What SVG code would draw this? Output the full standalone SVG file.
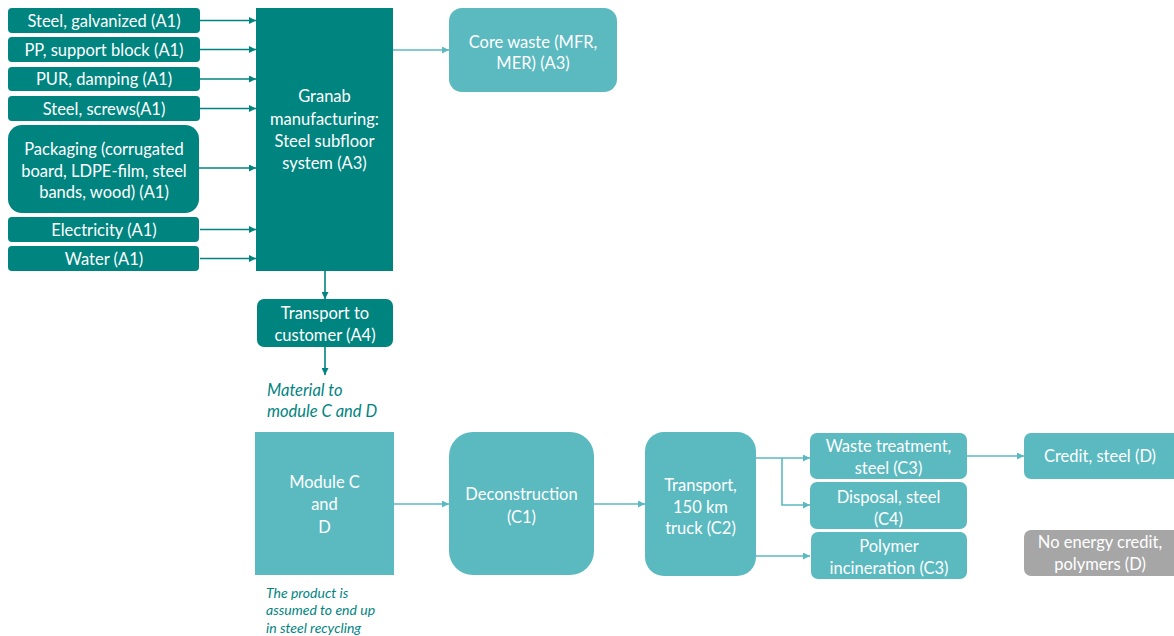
<svg xmlns="http://www.w3.org/2000/svg" width="1174" height="636" viewBox="0 0 1174 636">
<style>
.dk{fill:#00847F}
.lt{fill:#5BB9C0}
.gr{fill:#A6A6A6}
text{font-family:Lato,"Open Sans",sans-serif;font-size:16.5px;fill:#FFFFFF;text-anchor:middle;dominant-baseline:central}
.it{font-style:italic;fill:#00847F;text-anchor:start;font-size:16.5px}
.it2{font-style:italic;fill:#00847F;text-anchor:start;font-size:14px}
.cd{stroke:#00847F;stroke-width:1.6;fill:none;marker-end:url(#ad)}
.cla{stroke:#5BB9C0;stroke-width:1.6;fill:none;marker-end:url(#al)}
</style>
<defs>
<marker id="ad" viewBox="0 0 10 10" refX="10" refY="5" markerWidth="7" markerHeight="7" orient="auto" markerUnits="userSpaceOnUse"><path d="M0,0 L10,5 L0,10 z" fill="#00847F"/></marker>
<marker id="al" viewBox="0 0 10 10" refX="10" refY="5" markerWidth="7" markerHeight="7" orient="auto" markerUnits="userSpaceOnUse"><path d="M0,0 L10,5 L0,10 z" fill="#5BB9C0"/></marker>
</defs>
<g id="connectors">
<line class="cd" x1="200" y1="20.5" x2="256" y2="20.5"/>
<line class="cd" x1="200" y1="49.5" x2="256" y2="49.5"/>
<line class="cd" x1="200" y1="79" x2="256" y2="79"/>
<line class="cd" x1="200" y1="108.5" x2="256" y2="108.5"/>
<line class="cd" x1="199" y1="168" x2="256" y2="168"/>
<line class="cd" x1="200" y1="229.5" x2="256" y2="229.5"/>
<line class="cd" x1="200" y1="258.5" x2="256" y2="258.5"/>
<line class="cla" x1="393" y1="50" x2="449" y2="50"/>
<line class="cd" x1="325" y1="271" x2="325" y2="299"/>
<line class="cd" x1="325" y1="347" x2="325" y2="375"/>
<line class="cla" x1="394" y1="504" x2="449" y2="504"/>
<line class="cla" x1="594" y1="504" x2="645" y2="504"/>
<line class="cla" x1="756" y1="458" x2="810" y2="458"/>
<polyline class="cla" points="782,458 782,505 810,505"/>
<line class="cla" x1="756" y1="556" x2="810" y2="556"/>
<line class="cla" x1="966" y1="456" x2="1024" y2="456"/>
</g>
<g id="n-steel-galv"><rect class="dk" x="8" y="8" width="192" height="25" rx="4"/><text x="104" y="20.5">Steel, galvanized (A1)</text></g>
<g id="n-pp"><rect class="dk" x="8" y="37" width="192" height="25" rx="4"/><text x="104" y="49.5">PP, support block (A1)</text></g>
<g id="n-pur"><rect class="dk" x="8" y="67" width="192" height="24" rx="4"/><text x="104" y="79">PUR, damping (A1)</text></g>
<g id="n-screws"><rect class="dk" x="8" y="96" width="192" height="25" rx="4"/><text x="104" y="108.5">Steel, screws(A1)</text></g>
<g id="n-packaging"><rect class="dk" x="8" y="125" width="191" height="88" rx="14"/><text x="104" y="149">Packaging (corrugated</text><text x="104" y="170.5">board, LDPE-film, steel</text><text x="104" y="192">bands, wood) (A1)</text></g>
<g id="n-electricity"><rect class="dk" x="8" y="217" width="191" height="25" rx="4"/><text x="104" y="229.5">Electricity (A1)</text></g>
<g id="n-water"><rect class="dk" x="8" y="246" width="191" height="25" rx="4"/><text x="104" y="258.5">Water (A1)</text></g>
<g id="n-granab"><rect class="dk" x="256" y="8" width="137" height="263"/><text x="324.5" y="96">Granab</text><text x="324.5" y="118.5">manufacturing:</text><text x="324.5" y="141">Steel subfloor</text><text x="324.5" y="163">system (A3)</text></g>
<g id="n-core"><rect class="lt" x="449" y="8" width="168" height="84" rx="13"/><text x="533" y="41.5">Core waste (MFR,</text><text x="533" y="63">MER) (A3)</text></g>
<g id="n-transport-a4"><rect class="dk" x="257" y="299" width="136" height="48" rx="7"/><text x="325" y="313">Transport to</text><text x="325" y="335">customer (A4)</text></g>
<g id="n-material-label"><text class="it" x="267" y="390">Material to</text><text class="it" x="267" y="411">module C and D</text></g>
<g id="n-module"><rect class="lt" x="255" y="432" width="139" height="143"/><text x="324.5" y="482">Module C</text><text x="324.5" y="504">and</text><text x="324.5" y="527">D</text></g>
<g id="n-product-label"><text class="it2" x="266" y="592">The product is</text><text class="it2" x="266" y="609.5">assumed to end up</text><text class="it2" x="266" y="627">in steel recycling</text></g>
<g id="n-decon"><rect class="lt" x="449" y="432" width="145" height="143" rx="24"/><text x="521.5" y="494">Deconstruction</text><text x="521.5" y="516.5">(C1)</text></g>
<g id="n-transport-c2"><rect class="lt" x="645" y="432" width="111" height="144" rx="19"/><text x="700.5" y="484.5">Transport,</text><text x="700.5" y="506.5">150 km</text><text x="700.5" y="528">truck (C2)</text></g>
<g id="n-waste-treat"><rect class="lt" x="810" y="433" width="157" height="46" rx="7"/><text x="888.5" y="445.5">Waste treatment,</text><text x="888.5" y="467.5">steel (C3)</text></g>
<g id="n-disposal"><rect class="lt" x="810" y="482" width="157" height="47" rx="7"/><text x="888.5" y="496.5">Disposal, steel</text><text x="888.5" y="518.5">(C4)</text></g>
<g id="n-polymer"><rect class="lt" x="811" y="532" width="156" height="47" rx="7"/><text x="889" y="546">Polymer</text><text x="889" y="567.5">incineration (C3)</text></g>
<g id="n-credit"><rect class="lt" x="1024" y="433" width="156" height="46" rx="7"/><text x="1100" y="456">Credit, steel (D)</text></g>
<g id="n-noenergy"><rect class="gr" x="1024" y="530" width="156" height="46" rx="7"/><text x="1100" y="542">No energy credit,</text><text x="1100" y="564">polymers (D)</text></g>
</svg>
